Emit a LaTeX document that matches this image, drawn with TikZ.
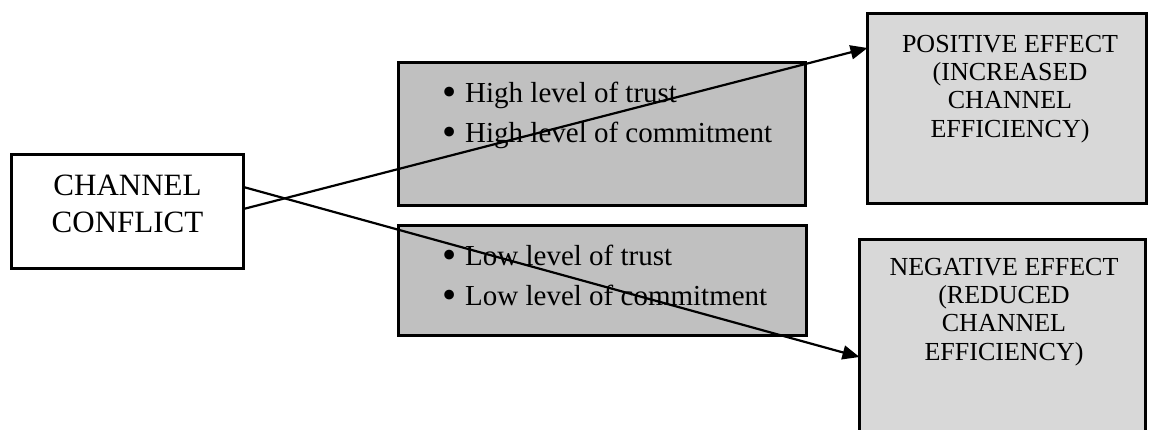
\documentclass[tikz,border=0pt]{standalone}
\usepackage{fontspec}
\setmainfont{Liberation Serif}
\usetikzlibrary{arrows.meta}
\definecolor{midgray}{HTML}{C0C0C0}
\definecolor{lightgray}{HTML}{D8D8D8}
\tikzset{
  box/.style={rectangle, draw=black, line width=3.2pt, outer sep=0pt, inner sep=0pt, anchor=north west},
  plainbox/.style={box, fill=white},
  factorbox/.style={box, fill=midgray},
  effectbox/.style={box, fill=lightgray},
  boxtext/.style={inner sep=0pt, align=center},
  listtext/.style={inner sep=0pt, align=left, anchor=west},
  link/.style={line width=2.2pt, -{Triangle[length=17pt,width=14pt]}},
}
\newcommand{\itembul}{\makebox[23pt][l]{\raisebox{-0.11em}{\scalebox{1.4}{\textbullet}}}}
\begin{document}
\begin{tikzpicture}[x=1pt,y=-1pt]
  \useasboundingbox (0,0) rectangle (1152,430);
  \clip (0,0) rectangle (1152,430);

  % boxes
  \node[plainbox, minimum width=232pt, minimum height=114pt] (cc) at (11.5,154.5) {};
  \node[factorbox, minimum width=407pt, minimum height=143pt] (high) at (398.5,62.5) {};
  \node[factorbox, minimum width=408pt, minimum height=110pt] (low) at (398.5,225.5) {};
  \node[effectbox, minimum width=279pt, minimum height=190pt] (pos) at (867.5,13.5) {};
  \node[effectbox, minimum width=286pt, minimum height=231pt] (neg) at (859.5,239.5) {};

  % texts
  \node[boxtext, font=\fontsize{31}{37}\selectfont] (cctext) at (127.5,204) {CHANNEL\\CONFLICT};
  \node[listtext, font=\fontsize{29}{40}\selectfont] (hightext) at (442,115)
    {\itembul High level of trust\\\itembul High level of commitment};
  \node[listtext, font=\fontsize{29}{40}\selectfont] (lowtext) at (442,276.5)
    {\itembul Low level of trust\\\itembul Low level of commitment};
  \node[boxtext, font=\fontsize{26}{28.2}\selectfont] (postext) at (1010,89)
    {POSITIVE EFFECT\\(INCREASED\\CHANNEL\\EFFICIENCY)};
  \node[boxtext, font=\fontsize{26}{28.2}\selectfont] (negtext) at (1004,312)
    {NEGATIVE EFFECT\\(REDUCED\\CHANNEL\\EFFICIENCY)};

  % connector end points on the box sides
  \coordinate (ccup) at ([yshift=2.5pt]cc.east);
  \coordinate (ccdown) at ([yshift=24.5pt]cc.east);
  \coordinate (posin) at ([yshift=60.5pt]pos.west);
  \coordinate (negin) at ([yshift=-2pt]neg.west);

  % connectors
  \draw[link] (ccup) -- (posin);
  \draw[link] (ccdown) -- (negin);
\end{tikzpicture}
\end{document}
